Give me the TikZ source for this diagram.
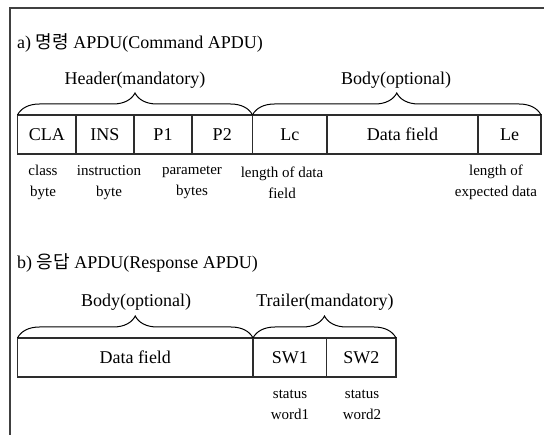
\documentclass[tikz,border=0pt]{standalone}
\usepackage{fontspec}
\setmainfont{Liberation Serif}
\newfontfamily\krfont{Noto Sans CJK KR}
\usetikzlibrary{positioning,decorations.pathreplacing}
\definecolor{framegray}{RGB}{64,64,64}
\definecolor{linegray}{RGB}{45,45,45}

\begin{document}
\begin{tikzpicture}[x=1pt,y=-1pt,
    cell/.style={draw=linegray,line width=1.3pt,minimum height=39pt,inner sep=0pt,outer sep=0pt,font=\fontsize{18}{20}\selectfont},
    title/.style={anchor=west,inner sep=0pt,font=\fontsize{18}{20}\selectfont},
    part/.style={inner sep=0pt,font=\fontsize{18}{20}\selectfont},
    note/.style={align=center,inner sep=0pt,font=\fontsize{15}{21}\selectfont},
    curly/.style={decorate,decoration={brace,amplitude=22pt},line width=1pt}]
    \useasboundingbox (0,0) rectangle (544,435);

    % outer frame, cut off at right and bottom
    \draw[framegray,line width=1.5pt] (10,435) -- (10,8) -- (544,8);

    % a) command APDU
    \node[title] (titlea) at (17,43) {a) {\krfont 명령} APDU(Command APDU)};
    \node[cell,minimum width=58.5pt,anchor=north west] (cla) at (17.5,115) {CLA};
    \node[cell,minimum width=58pt,right=0pt of cla] (ins) {INS};
    \node[cell,minimum width=58pt,right=0pt of ins] (pa) {P1};
    \node[cell,minimum width=60.5pt,right=0pt of pa] (pb) {P2};
    \node[cell,minimum width=74.5pt,right=0pt of pb] (lc) {Lc};
    \node[cell,minimum width=151pt,right=0pt of lc] (dataa) {Data field};
    \node[cell,minimum width=63pt,right=0pt of dataa] (le) {Le};

    \draw[curly] (cla.north west) -- (pb.north east);
    \draw[curly] (lc.north west) -- (le.north east);
    \node[part] (header) at (135,80) {Header(mandatory)};
    \node[part] (bodya) at (396,80) {Body(optional)};

    \node[note] (clanote) at (43,182.5) {class\\byte};
    \node[note] (insnote) at (109,182.5) {instruction\\byte};
    \node[note] (pnote) at (192,182.5) {parameter\\bytes};
    \node[note] (lcnote) at (282,182.5) {length of data\\field};
    \node[note] (lenote) at (496,182.5) {length of\\expected data};

    % b) response APDU
    \node[title] (titleb) at (17,263) {b) {\krfont 응답} APDU(Response APDU)};
    \node[cell,minimum width=235.5pt,anchor=north west] (datab) at (17.5,338) {Data field};
    \node[cell,minimum width=73.5pt,right=0pt of datab] (swa) {SW1};
    \node[cell,minimum width=69.5pt,right=0pt of swa] (swb) {SW2};

    \draw[curly] (datab.north west) -- (datab.north east);
    \draw[curly] (swa.north west) -- (swb.north east);
    \node[part] (bodyb) at (136,302) {Body(optional)};
    \node[part] (trailer) at (325,302) {Trailer(mandatory)};

    \node[note] (swanote) at (290,405) {status\\word1};
    \node[note] (swbnote) at (362,405) {status\\word2};
\end{tikzpicture}
\end{document}
